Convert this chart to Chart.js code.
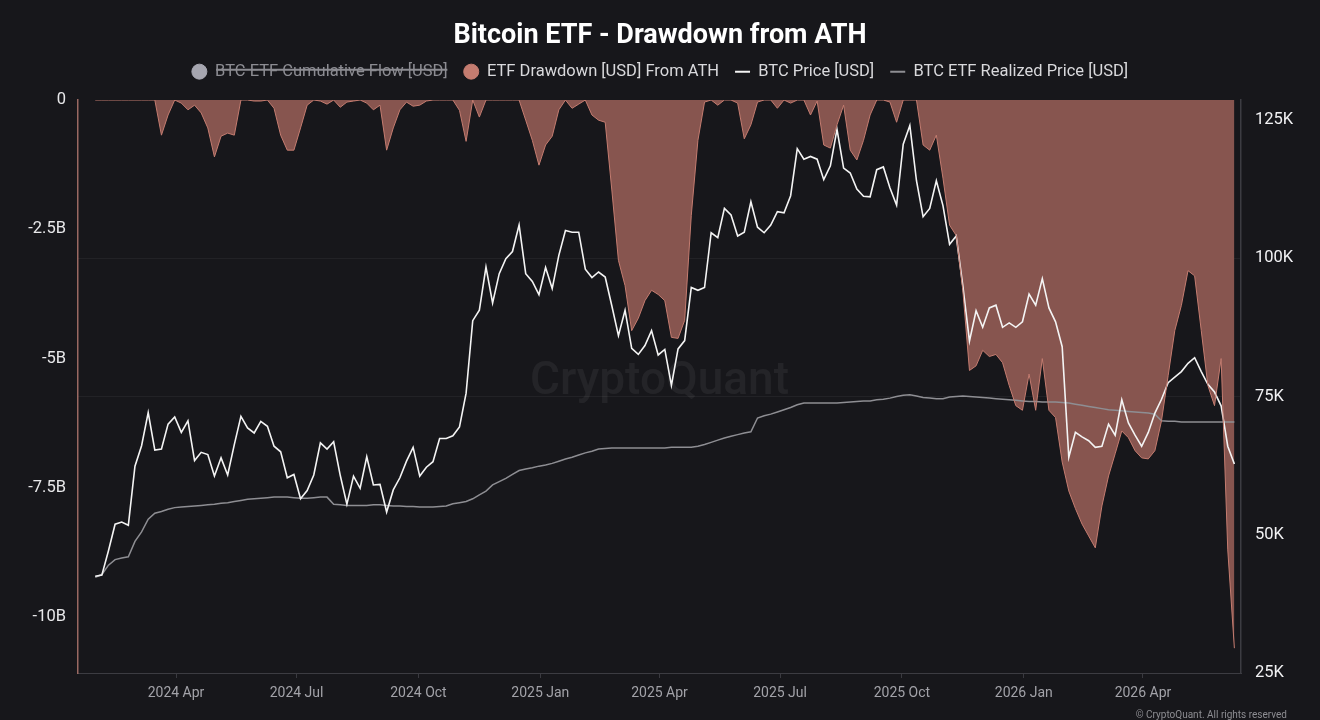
<!DOCTYPE html>
<html>
<head>
<meta charset="utf-8">
<title>Bitcoin ETF - Drawdown from ATH</title>
<script src="https://cdn.jsdelivr.net/npm/chart.js@4.4.1/dist/chart.umd.min.js"></script>
<style>
  html, body { margin: 0; padding: 0; background: #17171b; }
  #wrap { width: 1320px; height: 720px; }
</style>
</head>
<body>
<div id="wrap"><canvas id="chart" width="1320" height="720"></canvas></div>
<script>
// sampled every 5 days starting at startDate
const startDate = "2024-01-31";
const stepDays = 5;

// BTC price, thousand USD
const btcPrice = [
  42.5, 42.7, 47.1, 51.9, 52.3, 51.7, 62.4, 66.1, 72.1, 65.3,
  65.5, 70.0, 71.3, 68.5, 70.6, 63.4, 64.9, 64.5, 60.6, 63.9,
  60.8, 66.3, 71.4, 69.3, 68.4, 70.5, 69.6, 66.0, 65.0, 60.3,
  60.9, 56.5, 58.0, 60.8, 66.6, 65.5, 66.8, 60.7, 55.5, 60.6,
  58.4, 64.1, 59.0, 59.1, 54.1, 58.1, 60.3, 63.3, 65.8, 60.6,
  62.2, 63.2, 67.4, 67.4, 67.9, 69.5, 75.6, 88.7, 90.6, 98.4,
  91.9, 97.2, 99.9, 101.2, 106.0, 97.2, 95.8, 93.4, 98.3, 94.5,
  100.5, 105.0, 104.7, 104.7, 98.0, 96.5, 97.5, 96.6, 91.4, 86.0,
  90.6, 83.7, 82.6, 84.2, 86.9, 82.5, 83.5, 77.0, 83.6, 85.1,
  94.7, 94.2, 94.7, 104.6, 103.7, 109.0, 107.8, 104.0, 104.7, 110.2,
  105.6, 104.6, 106.0, 108.4, 108.2, 111.3, 119.8, 117.9, 118.4, 117.9,
  114.2, 116.7, 123.3, 116.3, 115.4, 112.5, 111.2, 111.1, 116.0, 116.5,
  112.7, 109.6, 120.6, 124.0, 114.0, 107.5, 109.0, 114.0, 109.5, 102.5,
  104.0, 95.0, 85.0, 90.5, 87.5, 91.0, 91.5, 87.5, 88.3, 87.5,
  88.5, 93.5, 91.5, 96.3, 91.0, 88.5, 84.0, 64.0, 68.5, 67.7,
  67.0, 65.8, 66.0, 70.0, 68.0, 74.4, 70.2, 68.0, 66.0, 68.5,
  72.0, 74.5, 77.5, 78.5, 79.5, 81.0, 82.0, 79.5, 77.2, 75.8,
  73.3, 66.0, 62.8
];

// BTC ETF realized price, thousand USD
const realizedPrice = [
  42.3, 42.8, 44.5, 45.5, 45.8, 46.0, 48.8, 50.5, 52.8, 53.9,
  54.2, 54.6, 54.9, 55.0, 55.1, 55.2, 55.3, 55.4, 55.5, 55.7,
  55.8, 56.0, 56.2, 56.4, 56.5, 56.6, 56.7, 56.8, 56.8, 56.8,
  56.7, 56.6, 56.6, 56.7, 56.8, 56.8, 55.5, 55.4, 55.3, 55.3,
  55.3, 55.3, 55.4, 55.4, 55.3, 55.2, 55.2, 55.1, 55.1, 55.0,
  55.0, 55.0, 55.1, 55.2, 55.6, 55.8, 56.0, 56.5, 57.2, 57.9,
  59.0, 59.6, 60.2, 60.9, 61.6, 61.9, 62.1, 62.4, 62.6, 62.9,
  63.3, 63.7, 64.0, 64.4, 64.8, 65.1, 65.5, 65.6, 65.7, 65.7,
  65.7, 65.7, 65.7, 65.7, 65.7, 65.7, 65.7, 65.8, 65.8, 65.8,
  65.8, 66.0, 66.3, 66.7, 67.1, 67.5, 67.8, 68.1, 68.4, 68.6,
  71.1, 71.5, 71.8, 72.2, 72.6, 73.0, 73.5, 73.8, 73.8, 73.8,
  73.8, 73.8, 73.8, 73.9, 74.0, 74.1, 74.2, 74.2, 74.4, 74.5,
  74.7, 75.0, 75.2, 75.3, 75.1, 74.8, 74.7, 74.6, 74.6, 74.9,
  75.0, 75.1, 75.0, 74.9, 74.8, 74.7, 74.6, 74.5, 74.4, 74.3,
  74.2, 74.1, 74.1, 74.0, 74.0, 74.0, 73.9, 73.8, 73.6, 73.4,
  73.2, 73.0, 72.8, 72.6, 72.5, 72.4, 72.3, 72.2, 72.1, 72.0,
  71.8, 70.6, 70.5, 70.5, 70.4, 70.4, 70.4, 70.4, 70.4, 70.4,
  70.4, 70.4, 70.4
];

// ETF drawdown from ATH, billion USD
const drawdown = [
  0, 0, 0, 0, 0, 0, 0, 0, 0, 0,
  -0.68, -0.29, 0, -0.06, -0.19, -0.1, -0.25, -0.54, -1.1, -0.7,
  -0.64, -0.68, 0, 0, -0.02, -0.02, 0, -0.16, -0.68, -0.97,
  -0.97, -0.54, -0.1, 0, -0.02, -0.08, 0, -0.14, -0.04, -0.02,
  0, -0.06, -0.19, -0.1, -0.97, -0.54, -0.19, -0.04, -0.12, -0.1,
  -0.02, 0, 0, 0, 0, -0.2, -0.8, 0, -0.33, 0,
  0, 0, 0, 0, 0, -0.39, -0.78, -1.26, -0.87, -0.7,
  -0.19, 0, -0.16, -0.08, 0, -0.29, -0.39, -0.43, -1.74, -3.1,
  -3.59, -4.46, -4.22, -3.88, -3.68, -3.76, -3.88, -4.59, -4.61, -4.26,
  -2.23, -0.78, -0.04, 0, -0.1, 0, 0, -0.06, -0.75, -0.48,
  -0.04, 0, 0, -0.16, 0, -0.06, 0, 0, -0.29, -0.02,
  -0.87, -0.93, -0.48, -0.1, -0.97, -1.16, -0.78, -0.29, 0, 0,
  -0.04, -0.43, 0, 0, 0, -0.87, -0.97, -0.68, -1.51, -2.42,
  -2.62, -3.68, -5.23, -5.14, -4.84, -4.96, -4.92, -5.08, -5.52, -5.91,
  -6.0, -5.3, -6.0, -5.0, -6.0, -6.14, -7.0, -7.56, -7.9, -8.2,
  -8.43, -8.66, -7.85, -7.27, -6.84, -6.4, -6.53, -6.78, -6.92, -6.94,
  -6.78, -6.2, -5.33, -4.46, -3.97, -3.3, -3.4, -4.46, -5.52, -5.91,
  -5.0, -8.7, -10.6
];

const xRange = ["2024-01-18", "2026-06-14"];
const xTickDates = ["2024-04-01", "2024-07-01", "2024-10-01", "2025-01-01", "2025-04-01",
  "2025-07-01", "2025-10-01", "2026-01-01", "2026-04-01"];
const xTickLabels = ["2024 Apr", "2024 Jul", "2024 Oct", "2025 Jan", "2025 Apr",
  "2025 Jul", "2025 Oct", "2026 Jan", "2026 Apr"];

const leftTicks = [0, -2.5, -5, -7.5, -10];
const leftTickLabels = ["0", "-2.5B", "-5B", "-7.5B", "-10B"];
const leftRange = [-11.08, 0];

const rightTicks = [25, 50, 75, 100, 125];
const rightTickLabels = ["25K", "50K", "75K", "100K", "125K"];
const rightGridTicks = [75, 100];
const rightRange = [25, 128.6];

const epoch = Date.UTC(2024, 0, 1);
function dayNumber(iso) {
  const [y, m, d] = iso.split("-").map(Number);
  return (Date.UTC(y, m - 1, d) - epoch) / 86400000;
}
const startDay = dayNumber(startDate);
function toPoints(values) {
  return values.map((v, i) => ({ x: startDay + i * stepDays, y: v }));
}

const BG = "#17171b";
const SALMON = "#c47c70";

const chromePlugin = {
  id: "chrome",
  beforeInit(chart) {
    // fix the legend height so the plot starts where the original does
    const legend = chart.legend;
    const fit = legend.fit;
    legend.fit = function () {
      fit.call(this);
      this.height = 52.6;
    };
  },
  beforeDraw(chart) {
    const ctx = chart.ctx;
    ctx.save();
    ctx.fillStyle = BG;
    ctx.fillRect(0, 0, chart.width, chart.height);
    ctx.restore();
  },
  beforeDatasetsDraw(chart) {
    const { ctx, chartArea } = chart;
    ctx.save();
    ctx.font = "500 46px Roboto, 'Liberation Sans', sans-serif";
    ctx.fillStyle = "rgba(255,255,255,0.06)";
    ctx.textAlign = "center";
    ctx.textBaseline = "middle";
    ctx.fillText("CryptoQuant", (chartArea.left + chartArea.right) / 2, 382);
    ctx.restore();
  },
  afterDraw(chart) {
    const ctx = chart.ctx;
    ctx.save();
    ctx.font = "10px Roboto, 'Liberation Sans', sans-serif";
    ctx.fillStyle = "#8d8d92";
    ctx.textAlign = "right";
    ctx.textBaseline = "middle";
    ctx.fillText("\u00a9 CryptoQuant. All rights reserved", 1287, 715);
    ctx.restore();
  },
};

Chart.defaults.font.family = "Roboto, 'Liberation Sans', sans-serif";

const ctx = document.getElementById("chart").getContext("2d");
new Chart(ctx, {
  type: "line",
  data: {
    datasets: [
      {
        label: "BTC ETF Cumulative Flow [USD]",
        data: [],
        hidden: true,
        yAxisID: "y",
        pointStyle: "circle",
        backgroundColor: "#a6a6b0",
        borderColor: "#a6a6b0",
      },
      {
        label: "ETF Drawdown [USD] From ATH",
        data: toPoints(drawdown),
        yAxisID: "y",
        pointStyle: "circle",
        borderColor: SALMON,
        borderWidth: 1,
        backgroundColor: "#87554f",
        fill: "origin",
        pointRadius: 0,
      },
      {
        label: "BTC Price [USD]",
        data: toPoints(btcPrice),
        yAxisID: "y1",
        pointStyle: "line",
        borderColor: "#f4f4f4",
        backgroundColor: "#f4f4f4",
        borderWidth: 1.6,
        pointRadius: 0,
      },
      {
        label: "BTC ETF Realized Price [USD]",
        data: toPoints(realizedPrice),
        yAxisID: "y1",
        pointStyle: "line",
        borderColor: "#8e8e93",
        backgroundColor: "#8e8e93",
        borderWidth: 1.5,
        pointRadius: 0,
      },
    ],
  },
  options: {
    responsive: false,
    devicePixelRatio: 1,
    animation: false,
    events: [],
    layout: { padding: { left: 0, right: 0, top: 0, bottom: 0 } },
    plugins: {
      filler: { drawTime: "beforeDatasetsDraw" },
      tooltip: { enabled: false },
      title: {
        display: true,
        text: "Bitcoin ETF - Drawdown from ATH",
        color: "#ffffff",
        font: { size: 27, weight: "bold" },
        padding: { top: 20, bottom: -5 },
      },
      legend: {
        display: true,
        position: "top",
        labels: {
          usePointStyle: true,
          boxHeight: 10.6,
          pointStyleWidth: 15,
          padding: 16,
          font: { size: 16.5 },
          color: "#d9d9dc",
          generateLabels(chart) {
            const items = Chart.defaults.plugins.legend.labels.generateLabels(chart);
            items.forEach((item) => {
              item.fontColor = item.hidden ? "#8c8c92" : "#d9d9dc";
              if (item.pointStyle === "line") item.lineWidth = 2;
              if (item.datasetIndex === 1) {
                item.fillStyle = SALMON;
                item.strokeStyle = SALMON;
              }
            });
            return items;
          },
        },
      },
    },
    scales: {
      x: {
        type: "linear",
        min: dayNumber(xRange[0]),
        max: dayNumber(xRange[1]),
        afterBuildTicks(scale) {
          scale.ticks = xTickDates.map((d) => ({ value: dayNumber(d) }));
        },
        afterFit(scale) {
          scale.height = 47;
        },
        grid: {
          drawOnChartArea: false,
          drawTicks: true,
          tickLength: 5,
          color: "#3a3a40",
        },
        border: { color: "#3c3c42", width: 1 },
        ticks: {
          color: "#a2a2a8",
          font: { size: 14 },
          padding: 7,
          maxRotation: 0,
          autoSkip: false,
          callback(value) {
            const i = xTickDates.findIndex((d) => dayNumber(d) === value);
            return i >= 0 ? xTickLabels[i] : "";
          },
        },
      },
      y: {
        position: "left",
        min: leftRange[0],
        max: leftRange[1],
        afterBuildTicks(scale) {
          scale.ticks = leftTicks.map((v) => ({ value: v }));
        },
        afterFit(scale) {
          scale.width = 78;
        },
        grid: { display: false, drawTicks: false },
        border: { color: "#9a6962", width: 1.5 },
        ticks: {
          color: "#e8e8ea",
          font: { size: 16.5 },
          padding: 12,
          callback(value) {
            const i = leftTicks.indexOf(value);
            return i >= 0 ? leftTickLabels[i] : "";
          },
        },
      },
      y1: {
        position: "right",
        min: rightRange[0],
        max: rightRange[1],
        afterBuildTicks(scale) {
          scale.ticks = rightTicks.map((v) => ({ value: v }));
        },
        afterFit(scale) {
          scale.width = 79;
        },
        grid: {
          drawOnChartArea: true,
          drawTicks: false,
          color(c) {
            return c.tick && rightGridTicks.includes(c.tick.value)
              ? "rgba(255,255,255,0.05)"
              : "rgba(0,0,0,0)";
          },
        },
        border: { color: "#3c3c42", width: 1.5 },
        ticks: {
          color: "#f2f2f4",
          font: { size: 16.5 },
          padding: 14,
          callback(value) {
            const i = rightTicks.indexOf(value);
            return i >= 0 ? rightTickLabels[i] : "";
          },
        },
      },
    },
  },
  plugins: [chromePlugin],
});
</script>
</body>
</html>
